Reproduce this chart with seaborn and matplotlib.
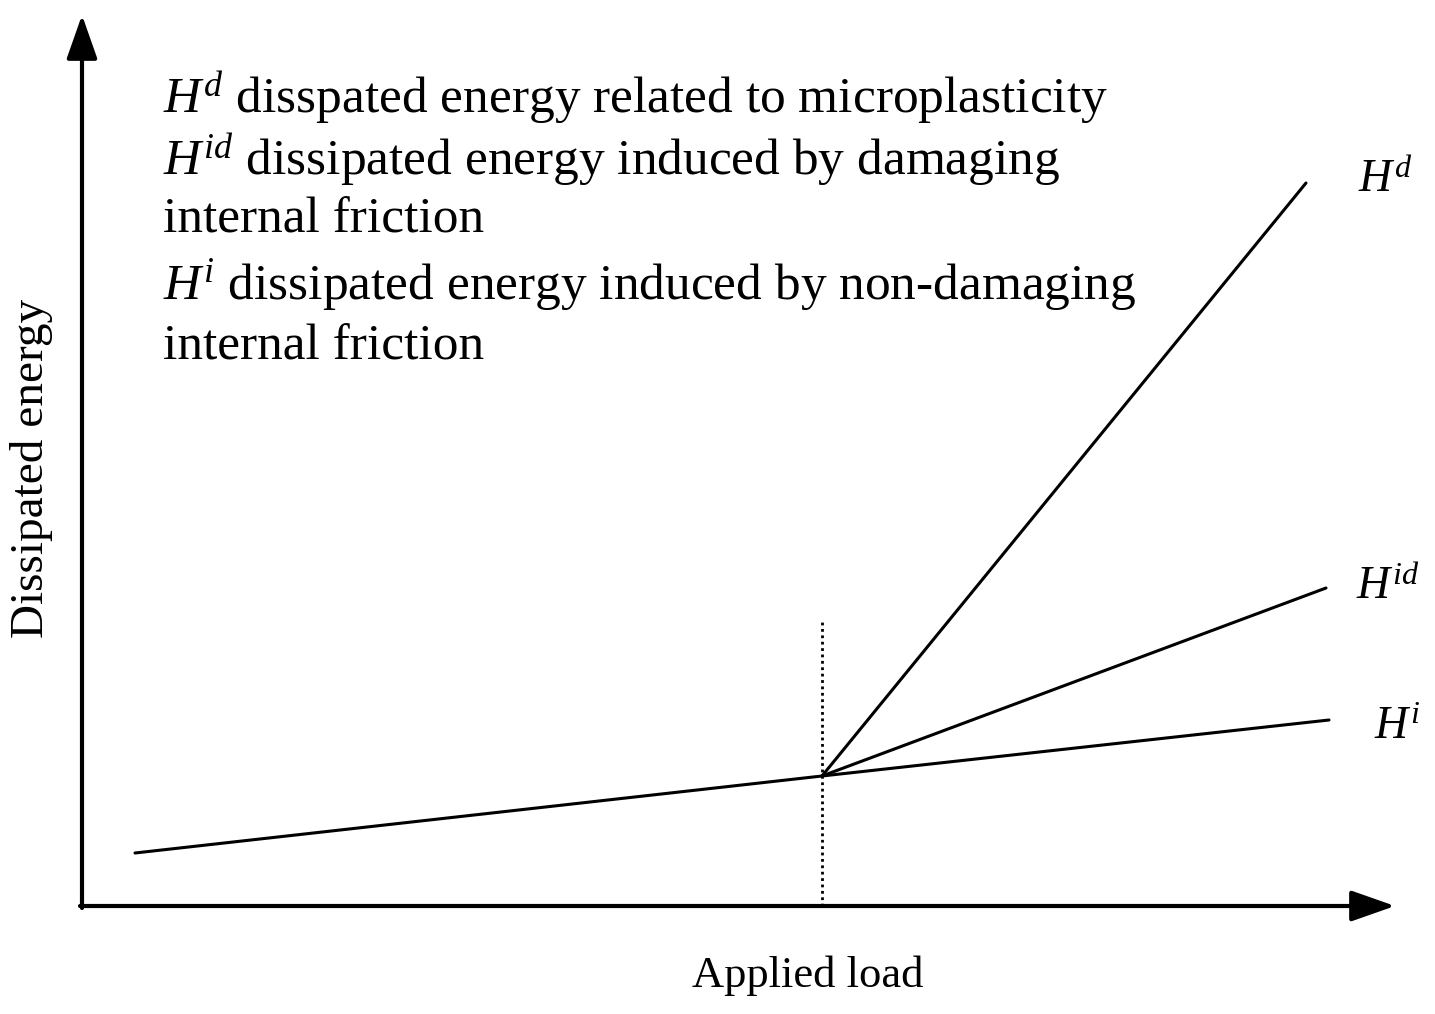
import matplotlib
matplotlib.use("Agg")
import matplotlib.pyplot as plt
import seaborn as sns
import pandas as pd

# ---- data (arbitrary schematic units: load, energy) ----
base_load = [53, 740]
base_energy = [53, 130]
hd_load = [740, 1224]
hd_energy = [130, 723]
hid_load = [740, 1244]
hid_energy = [130, 318]
hi_load = [740, 1247]
hi_energy = [130, 186]
threshold_load = 740
threshold_top = 286

series_labels = [r"$H^{d}$", r"$H^{id}$", r"$H^{i}$"]
legend_lines = [
    r"$H^{d}$ disspated energy related to microplasticity",
    r"$H^{id}$ dissipated energy induced by damaging",
    "internal friction",
    r"$H^{i}$ dissipated energy induced by non-damaging",
    "internal friction",
]
xlabel = "Applied load"
ylabel = "Dissipated energy"

sns.set_style("white")
plt.rcParams["font.family"] = ["Liberation Serif", "DejaVu Serif"]
plt.rcParams["mathtext.fontset"] = "custom"
plt.rcParams["mathtext.rm"] = "Liberation Serif"
plt.rcParams["mathtext.it"] = "Liberation Serif:italic"
plt.rcParams["text.color"] = "black"

fig = plt.figure(figsize=(14.35, 10.14), dpi=100)
ax = fig.add_axes([0, 0, 1, 1])
ax.set_xlim(-82, 1353)
ax.set_ylim(-108, 906)
ax.axis("off")

lw = 2.2
for xs, ys in [(base_load, base_energy), (hd_load, hd_energy),
               (hid_load, hid_energy), (hi_load, hi_energy)]:
    df = pd.DataFrame({"load": xs, "energy": ys})
    sns.lineplot(data=df, x="load", y="energy", ax=ax, color="black",
                 lw=lw, sort=False, estimator=None)

# dotted threshold
df = pd.DataFrame({"load": [threshold_load, threshold_load], "energy": [0, threshold_top]})
sns.lineplot(data=df, x="load", y="energy", ax=ax, color="black", lw=2.0,
             linestyle=(0, (1, 1.3)), sort=False, estimator=None)

# axes arrows
arrow_style = "-|>,head_length=27,head_width=9.5"
ax.annotate("", xy=(1313, 0), xytext=(-2, 0),
            arrowprops=dict(arrowstyle=arrow_style, lw=3, color="black",
                            mutation_scale=1, shrinkA=0, shrinkB=0))
ax.annotate("", xy=(0, 891), xytext=(0, -2),
            arrowprops=dict(arrowstyle=arrow_style, lw=3, color="black",
                            mutation_scale=1, shrinkA=0, shrinkB=0))

fs_lab = 33
# series labels at line ends
ax.text(hd_load[-1] + 52, hd_energy[-1] + 2, series_labels[0], fontsize=fs_lab, ha="left", va="center")
ax.text(hid_load[-1] + 30, hid_energy[-1] + 0, series_labels[1], fontsize=fs_lab, ha="left", va="center")
ax.text(hi_load[-1] + 45, hi_energy[-1] - 8, series_labels[2], fontsize=fs_lab, ha="left", va="center")

# descriptive text block
fs_body = 37
ys_txt = [808, 746, 686, 621, 559]
for t, y in zip(legend_lines, ys_txt):
    ax.text(81, y, t, fontsize=fs_body, ha="left", va="center")

ax.text(726, -70, xlabel, fontsize=32, ha="center", va="center")
ax.text(-50, 438, ylabel, fontsize=34, ha="center", va="center", rotation=90)

fig.savefig("out.png", dpi=100)
